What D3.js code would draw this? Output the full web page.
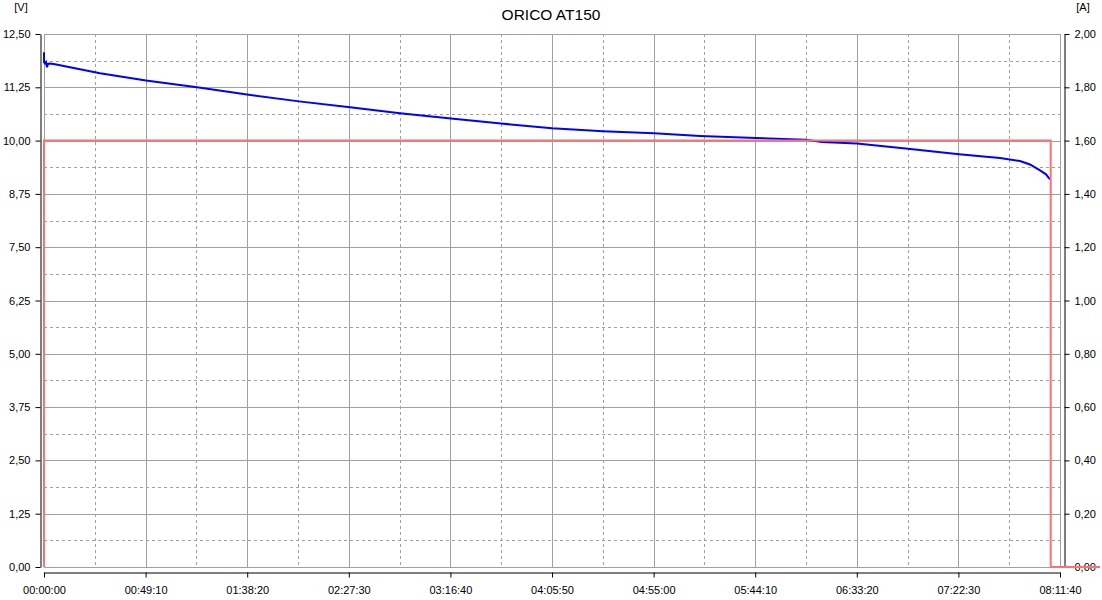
<!DOCTYPE html>
<html><head><meta charset="utf-8">
<script src="https://cdn.jsdelivr.net/npm/d3@7"></script>
<style>body{margin:0;background:#fff}svg{display:block}text{font-family:"Liberation Sans",Arial,sans-serif}</style>
</head><body><svg id="c" width="1102" height="600"></svg>
<script>
const title = "ORICO AT150";
const leftUnit = "[V]", rightUnit = "[A]";
const xTicks = [0,2950,5900,8850,11800,14750,17700,20650,23600,26550,29500];
const vTicks = [0,1.25,2.5,3.75,5,6.25,7.5,8.75,10,11.25,12.5];
const aTicks = [0,0.2,0.4,0.6,0.8,1.0,1.2,1.4,1.6,1.8,2.0];
// voltage series: time (s), volts
const vTime = [0,0,29,58,87,116,174,319,755,1626,2961,4442,5894,7403,8884,10336,11817,13268,14749,16230,17711,19047,20673,22125,22589,23606,25087,26568,27757,28338,28628,28919,29093,29209];
const vVolt = [12.07,11.84,11.81,11.84,11.72,11.80,11.81,11.79,11.72,11.58,11.41,11.25,11.08,10.92,10.78,10.64,10.52,10.40,10.29,10.22,10.17,10.11,10.06,10.02,9.97,9.93,9.81,9.68,9.59,9.52,9.44,9.30,9.21,9.09];
// current series: time (s), amps
const aTime = [0,0,29230,29230,30660];
const aAmp = [0,1.6,1.6,0,0];

const svg = d3.select("#c");
const L=44,R=1060,T=34,B=567;
const x = d3.scaleLinear().domain([0,29500]).range([L,R]);
const yV = d3.scaleLinear().domain([0,12.5]).range([B,T]);
const yA = d3.scaleLinear().domain([0,2]).range([B,T]);
const gridCol="#a0a0a0";
const g = svg.append("g");
// minor dashed grid
for(let i=0;i<xTicks.length-1;i++){
  const xm = x((xTicks[i]+xTicks[i+1])/2);
  g.append("line").attr("x1",Math.round(xm)+0.5).attr("x2",Math.round(xm)+0.5).attr("y1",T).attr("y2",B).attr("stroke",gridCol).attr("stroke-dasharray","3,3");
}
for(let i=0;i<vTicks.length-1;i++){
  const ym = yV((vTicks[i]+vTicks[i+1])/2);
  g.append("line").attr("y1",Math.round(ym)+0.5).attr("y2",Math.round(ym)+0.5).attr("x1",L).attr("x2",R).attr("stroke",gridCol).attr("stroke-dasharray","3,3");
}
xTicks.forEach(t=>g.append("line").attr("x1",Math.round(x(t))+0.5).attr("x2",Math.round(x(t))+0.5).attr("y1",T).attr("y2",B).attr("stroke",gridCol));
vTicks.forEach(v=>g.append("line").attr("y1",Math.round(yV(v))+0.5).attr("y2",Math.round(yV(v))+0.5).attr("x1",L).attr("x2",R).attr("stroke",gridCol));
g.append("rect").attr("x",L+0.5).attr("y",T+0.5).attr("width",R-L).attr("height",B-T).attr("fill","none").attr("stroke",gridCol);

const fmt = d3.format(".2f");
const comma = v => fmt(v).replace(".",",");
const hms = s => { const h=Math.floor(s/3600), m=Math.floor(s%3600/60), ss=Math.round(s%60); return [h,m,ss].map(n=>String(n).padStart(2,"0")).join(":"); };

// left axis
const la = svg.append("g").attr("transform","translate(40.5,0)")
  .call(d3.axisLeft(yV).tickValues(vTicks).tickSize(5).tickSizeOuter(0).tickFormat(comma));
// right axis
const ra = svg.append("g").attr("transform","translate(1064.5,0)")
  .call(d3.axisRight(yA).tickValues(aTicks).tickSize(5).tickSizeOuter(0).tickFormat(comma));
// bottom axis
const ba = svg.append("g").attr("transform","translate(0,572.5)")
  .call(d3.axisBottom(x).tickValues(xTicks).tickSize(5).tickSizeOuter(0).tickFormat(hms));
[la,ra,ba].forEach(a=>{a.selectAll("path,line").attr("stroke","#000");a.selectAll("text").attr("font-size",11).attr("fill","#000").attr("font-family","'Liberation Sans',Arial,sans-serif");});
la.selectAll("text").attr("x",-10);
ra.selectAll("text").attr("x",10);
ba.selectAll("text").attr("y",14);

// voltage line
const vData = vTime.map((t,i)=>[t,vVolt[i]]);
svg.append("path").datum(vData).attr("fill","none").attr("stroke","#0000ff").attr("stroke-width",2)
  .attr("d",d3.line().x(d=>x(d[0])).y(d=>yV(d[1])));
// current line
const aData = aTime.map((t,i)=>[t,aAmp[i]]);
svg.append("path").datum(aData).attr("fill","none").attr("stroke","#ff7070").attr("stroke-width",2)
  .attr("d",d3.line().x(d=>x(d[0])).y(d=>yA(d[1])));

svg.append("text").attr("x",551).attr("y",20).attr("text-anchor","middle").attr("font-size",15.5).text(title);
svg.append("text").attr("x",21).attr("y",11).attr("text-anchor","middle").attr("font-size",11).text(leftUnit);
svg.append("text").attr("x",1083).attr("y",11).attr("text-anchor","middle").attr("font-size",11).text(rightUnit);
</script></body></html>
